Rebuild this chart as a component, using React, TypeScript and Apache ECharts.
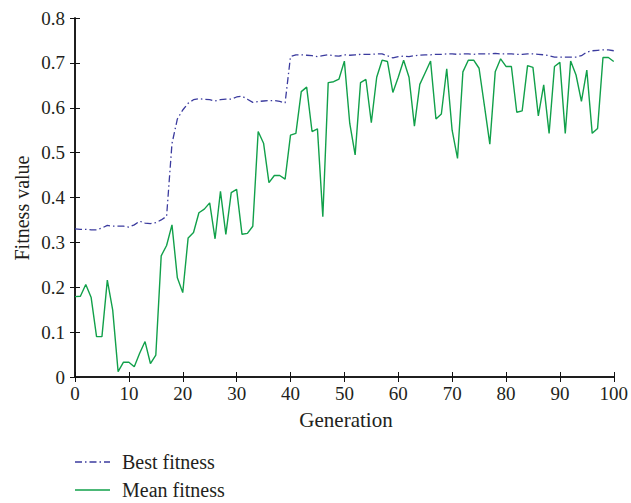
import React, { useEffect, useRef } from "react";
import * as echarts from "echarts";

const generations: number[] = Array.from({ length: 101 }, (_, i) => i);

const bestFitness: number[] = [
  0.330, 0.329, 0.329, 0.328, 0.328, 0.332, 0.338, 0.336, 0.336, 0.336,
  0.334, 0.339, 0.347, 0.343, 0.342, 0.344, 0.350, 0.358, 0.520, 0.575,
  0.595, 0.610, 0.618, 0.620, 0.619, 0.618, 0.615, 0.618, 0.619, 0.619,
  0.624, 0.626, 0.619, 0.612, 0.614, 0.615, 0.616, 0.616, 0.614, 0.611,
  0.714, 0.718, 0.718, 0.717, 0.716, 0.714, 0.716, 0.718, 0.716, 0.715,
  0.718, 0.717, 0.718, 0.719, 0.719, 0.719, 0.720, 0.720, 0.716, 0.711,
  0.714, 0.715, 0.714, 0.716, 0.717, 0.718, 0.718, 0.719, 0.719, 0.720,
  0.720, 0.719, 0.720, 0.720, 0.719, 0.720, 0.720, 0.720, 0.721, 0.720,
  0.720, 0.720, 0.719, 0.719, 0.720, 0.720, 0.719, 0.718, 0.716, 0.713,
  0.713, 0.713, 0.713, 0.713, 0.716, 0.724, 0.727, 0.728, 0.729, 0.729,
  0.727,
];

const meanFitness: number[] = [
  0.179, 0.180, 0.206, 0.177, 0.090, 0.090, 0.216, 0.149, 0.012, 0.033,
  0.033, 0.023, 0.053, 0.079, 0.030, 0.049, 0.270, 0.293, 0.339, 0.221,
  0.188, 0.310, 0.322, 0.366, 0.374, 0.388, 0.308, 0.414, 0.318, 0.411,
  0.418, 0.318, 0.320, 0.336, 0.547, 0.521, 0.433, 0.449, 0.449, 0.441,
  0.539, 0.543, 0.636, 0.646, 0.547, 0.553, 0.357, 0.656, 0.658, 0.664,
  0.704, 0.565, 0.495, 0.656, 0.663, 0.567, 0.668, 0.706, 0.703, 0.634,
  0.668, 0.706, 0.668, 0.559, 0.652, 0.678, 0.704, 0.575, 0.586, 0.687,
  0.550, 0.487, 0.680, 0.706, 0.706, 0.688, 0.604, 0.519, 0.680, 0.709,
  0.692, 0.692, 0.590, 0.593, 0.694, 0.690, 0.582, 0.651, 0.543, 0.692,
  0.701, 0.543, 0.704, 0.673, 0.614, 0.684, 0.543, 0.554, 0.712, 0.712,
  0.703,
];

const seriesNames: string[] = ["Best fitness", "Mean fitness"];
const xTitle = "Generation";
const yTitle = "Fitness value";

const FONT = "'Liberation Serif', 'DejaVu Serif', serif";
const TEXT = "#231f20";
const BLUE = "#3b3b9e";
const GREEN = "#11a04a";
const BEST_DASH = [7, 3, 1.5, 3];

export default function App() {
  const ref = useRef<HTMLDivElement>(null);

  useEffect(() => {
    if (!ref.current) return;
    const chart = echarts.init(ref.current, undefined, { renderer: "svg" });

    const axisLine = { show: true, lineStyle: { color: "#111", width: 1.5 } };
    const axisTick = { show: true, inside: true, length: 5, lineStyle: { color: "#111", width: 1 } };

    const legendRows = [
      { name: seriesNames[0], y: 462, color: BLUE, dash: BEST_DASH },
      { name: seriesNames[1], y: 490, color: GREEN, dash: null as number[] | null },
    ];
    const legendGraphics: any[] = [];
    legendRows.forEach((r) => {
      legendGraphics.push({
        type: "line",
        shape: { x1: 75, y1: r.y, x2: 110, y2: r.y },
        style: { stroke: r.color, lineWidth: 1.4, lineDash: r.dash || undefined },
      });
      legendGraphics.push({
        type: "text",
        x: 122,
        y: r.y,
        style: {
          text: r.name,
          fontFamily: FONT,
          fontSize: 20,
          fill: TEXT,
          textAlign: "left",
          textVerticalAlign: "middle",
        },
      });
    });

    chart.setOption({
      animation: false,
      backgroundColor: "#ffffff",
      grid: { left: 75, right: 14, top: 18, bottom: 126, containLabel: false },
      xAxis: [
        {
          type: "value",
          min: 0,
          max: 100,
          interval: 10,
          position: "bottom",
          axisLine,
          axisTick,
          splitLine: { show: false },
          axisLabel: { margin: 7, fontFamily: FONT, fontSize: 19, color: TEXT, showMaxLabel: true },
        },
        {
          type: "value",
          min: 0,
          max: 100,
          interval: 10,
          position: "top",
          axisLine,
          axisTick,
          splitLine: { show: false },
          axisLabel: { show: false },
        },
      ],
      yAxis: [
        {
          type: "value",
          min: 0,
          max: 0.8,
          interval: 0.1,
          position: "left",
          axisLine,
          axisTick,
          splitLine: { show: false },
          axisLabel: {
            margin: 10,
            fontFamily: FONT,
            fontSize: 19,
            color: TEXT,
            formatter: (v: number) => (v === 0 ? "0" : v.toFixed(1)),
          },
        },
        {
          type: "value",
          min: 0,
          max: 0.8,
          interval: 0.1,
          position: "right",
          axisLine,
          axisTick,
          splitLine: { show: false },
          axisLabel: { show: false },
        },
      ],
      graphic: [
        {
          type: "text",
          x: 346,
          y: 420,
          style: {
            text: xTitle,
            fontFamily: FONT,
            fontSize: 21,
            fill: TEXT,
            textAlign: "center",
            textVerticalAlign: "middle",
          },
        },
        {
          type: "text",
          x: 22,
          y: 208,
          rotation: Math.PI / 2,
          style: {
            text: yTitle,
            fontFamily: FONT,
            fontSize: 20,
            fill: TEXT,
            textAlign: "center",
            textVerticalAlign: "middle",
          },
        },
        ...legendGraphics,
      ],
      series: [
        {
          name: seriesNames[0],
          type: "line",
          xAxisIndex: 0,
          yAxisIndex: 0,
          symbol: "none",
          data: generations.map((g, i) => [g, bestFitness[i]]),
          lineStyle: { color: BLUE, width: 1.3, type: BEST_DASH },
          itemStyle: { color: BLUE },
          z: 3,
        },
        {
          name: seriesNames[1],
          type: "line",
          xAxisIndex: 0,
          yAxisIndex: 0,
          symbol: "none",
          data: generations.map((g, i) => [g, meanFitness[i]]),
          lineStyle: { color: GREEN, width: 1.4, type: "solid" },
          itemStyle: { color: GREEN },
          z: 2,
        },
      ],
    });

    return () => chart.dispose();
  }, []);

  return <div ref={ref} style={{ width: 631, height: 503, position: "absolute", left: 0, top: 0 }} />;
}
